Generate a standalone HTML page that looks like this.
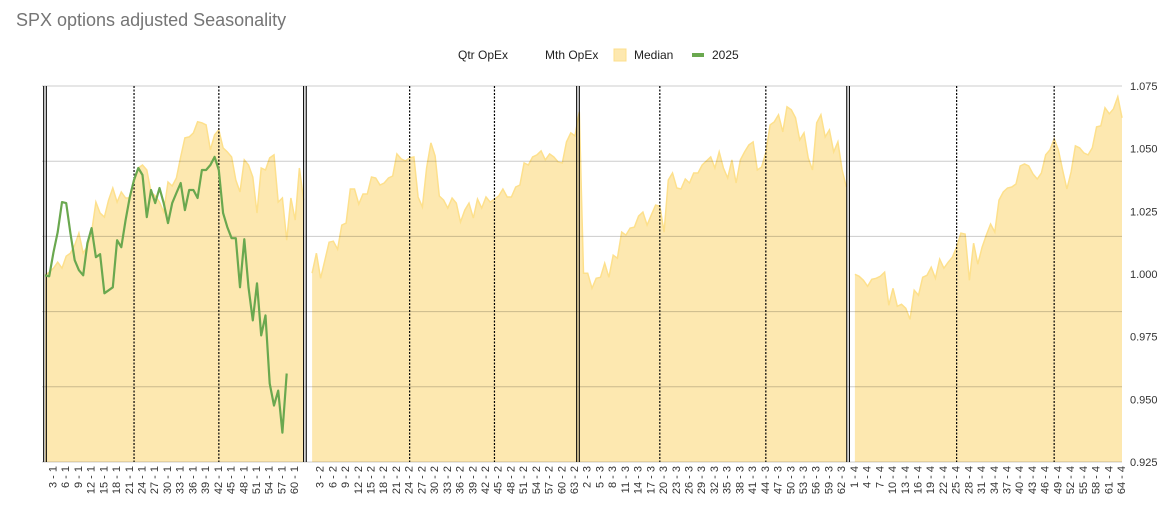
<!DOCTYPE html>
<html><head><meta charset="utf-8"><style>
body{margin:0;background:#fff;}
svg{display:block;font-family:"Liberation Sans",Arial,sans-serif;}
</style></head><body>
<svg id="chart" width="1170" height="512" viewBox="0 0 1170 512">
<text x="16" y="26" font-size="18" fill="#757575">SPX options adjusted Seasonality</text>
<g font-size="12" fill="#222">
<g><text x="458" y="59">Qtr OpEx</text></g>
<g><text x="545" y="59">Mth OpEx</text></g>
<g><rect x="614" y="49" width="12" height="12" fill="#fde8b0" stroke="#fddf8c"/><text x="634" y="59">Median</text></g>
<g><rect x="692" y="53" width="12" height="4" fill="#6aa84f"/><text x="712" y="59">2025</text></g>
</g>
<g id="area"></g>
<g id="grid"></g>
<g id="opex"></g>
<g id="line"></g>
<g id="yaxis"></g>
<g id="xaxis"></g>
</svg>
<script>
const qDays = [62, 64, 63, 64];
const q1Median = [0.9995,1.0007,1.0023,1.0047,1.0023,1.0071,1.0083,1.0115,1.0163,1.0083,1.0111,1.0167,1.0287,1.0243,1.0227,1.0295,1.0343,1.0287,1.0327,1.0303,1.0303,1.0367,1.0423,1.0435,1.0415,1.0327,1.0311,1.0287,1.0247,1.0367,1.0351,1.0383,1.0467,1.0543,1.0547,1.0563,1.0607,1.0603,1.0595,1.0495,1.0555,1.0575,1.0503,1.0487,1.0467,1.0375,1.0327,1.0455,1.0435,1.0387,1.0243,1.0423,1.0415,1.0463,1.0475,1.0287,1.0303,1.0135,1.0303,1.0215,1.0423,1.0295];
const q2Median = [1.0003,1.0083,0.9983,1.0055,1.0127,1.0131,1.0099,1.0195,1.0203,1.0339,1.0339,1.0279,1.0319,1.0319,1.0387,1.0383,1.0355,1.0363,1.0383,1.0391,1.0479,1.0459,1.0451,1.0463,1.0467,1.0307,1.0267,1.0423,1.0523,1.0471,1.0311,1.0295,1.0263,1.0303,1.0283,1.0207,1.0255,1.0283,1.0223,1.0299,1.0263,1.0307,1.0287,1.0299,1.0311,1.0339,1.0307,1.0307,1.0347,1.0355,1.0443,1.0435,1.0467,1.0475,1.0491,1.0455,1.0479,1.0467,1.0447,1.0443,1.0527,1.0563,1.0551,1.0647];
const q3Median = [1.0003,1.0003,0.9943,0.9983,0.9987,1.0043,0.9987,1.0075,1.0063,1.0167,1.0155,1.0183,1.0187,1.0231,1.0247,1.0195,1.0235,1.0275,1.0271,1.0167,1.0375,1.0403,1.0343,1.0339,1.0379,1.0363,1.0403,1.0403,1.0435,1.0451,1.0467,1.0423,1.0487,1.0423,1.0383,1.0455,1.0363,1.0455,1.0487,1.0515,1.0527,1.0415,1.0427,1.0483,1.0595,1.0607,1.0635,1.0567,1.0667,1.0655,1.0623,1.0535,1.0563,1.0463,1.0415,1.0603,1.0635,1.0547,1.0575,1.0487,1.0527,1.0415,1.0347];
const q4Median = [0.9999,0.9991,0.9975,0.9951,0.9979,0.9983,0.9991,1.0007,0.9875,0.9943,0.9871,0.9879,0.9863,0.9819,0.9935,0.9915,0.9987,0.9995,1.0027,0.9983,1.0059,1.0023,1.0047,1.0067,1.0107,1.0163,1.0159,0.9975,1.0123,1.0039,1.0107,1.0155,1.0199,1.0167,1.0295,1.0327,1.0343,1.0347,1.0359,1.0431,1.0439,1.0431,1.0399,1.0379,1.0403,1.0475,1.0495,1.0539,1.0495,1.0415,1.0339,1.0407,1.0511,1.0503,1.0483,1.0475,1.0503,1.0587,1.0591,1.0663,1.0639,1.0659,1.0707,1.0623];
const q1Actual2025 = [0.9995,0.9991,1.0087,1.0167,1.0287,1.0283,1.0163,1.0055,1.0015,0.9995,1.0123,1.0183,1.0067,1.0079,0.9923,0.9935,0.9947,1.0135,1.0107,1.0215,1.0307,1.0375,1.0423,1.0395,1.0227,1.0335,1.0283,1.0343,1.0283,1.0203,1.0283,1.0323,1.0363,1.0255,1.0335,1.0335,1.0303,1.0415,1.0415,1.0435,1.0467,1.0415,1.0243,1.0187,1.0143,1.0143,0.9947,1.0139,0.9947,0.9815,0.9963,0.9755,0.9835,0.9563,0.9475,0.9535,0.9367,0.9603];
const yTicks = [1.075,1.050,1.025,1.000,0.975,0.950,0.925];
const qtrOpExIdx = [0, 61.3, 125.7, 189.4];
const mthOpExIdx = [21, 41, 86, 106, 145, 170, 215, 238];

const NS = 'http://www.w3.org/2000/svg';
const L = 45, R = 1122, T = 86, B = 462, YMAX = 1.075, YMIN = 0.925;
const cats = [], median = [], actual = [];
const medians = [q1Median, q2Median, q3Median, q4Median];
for (let q = 0; q < 4; q++) {
  for (let d = 1; d <= qDays[q]; d++) {
    cats.push(d + ' - ' + (q + 1));
    median.push(medians[q][d - 1] !== undefined ? medians[q][d - 1] : null);
    actual.push(q === 0 && q1Actual2025[d - 1] !== undefined ? q1Actual2025[d - 1] : null);
  }
  if (q === 0 || q === 2) { cats.push(''); median.push(null); actual.push(null); }
}
const N = cats.length;
const xS = i => L + i * (R - L) / (N - 1);
const yS = v => T + (YMAX - v) / (YMAX - YMIN) * (B - T);
function mk(tag, attrs, parent) { const e = document.createElementNS(NS, tag); for (const k in attrs) e.setAttribute(k, attrs[k]); parent.appendChild(e); return e; }

const grid = document.getElementById('grid');
for (let k = 0; k <= 5; k++) {
  const y = T + k * (B - T) / 5;
  const g = mk('line', {x1: 42, x2: R, y1: y, y2: y, stroke: 'rgba(0,0,0,0.2)', 'stroke-width': 1}, grid);
  
  
}
const area = document.getElementById('area');
let seg = [];
function flush() {
  if (seg.length) {
    let d = 'M' + xS(seg[0]) + ',' + B;
    seg.forEach(i => d += ' L' + xS(i).toFixed(1) + ',' + yS(median[i]).toFixed(1));
    d += ' L' + xS(seg[seg.length - 1]) + ',' + B + ' Z';
    const a = mk('path', {d: d, fill: '#fde8b0', stroke: 'none'}, area);
    
    
    let dl = '';
    seg.forEach((i, k) => dl += (k ? ' L' : 'M') + xS(i).toFixed(1) + ',' + yS(median[i]).toFixed(1));
    const ln = mk('path', {d: dl, fill: 'none', stroke: '#fde08c', 'stroke-width': 1.5}, area);
    
    
  }
  seg = [];
}
for (let i = 0; i < N; i++) { if (median[i] === null) flush(); else seg.push(i); }
flush();
const opex = document.getElementById('opex');
qtrOpExIdx.forEach(i => {
  const x = Math.max(44, xS(i));
  [-1.3, 1.3].forEach(o => {
    const q = mk('line', {x1: x + o, x2: x + o, y1: T, y2: B, stroke: '#000', 'stroke-width': 1.1}, opex);
    
    
  });
});
mthOpExIdx.forEach(i => {
  const m = mk('line', {x1: xS(i), x2: xS(i), y1: T, y2: B, stroke: '#000', 'stroke-width': 1.2, 'stroke-dasharray': '2,1.5'}, opex);
  
  
});
const lineG = document.getElementById('line');
let dd = '', started = false;
for (let i = 0; i < N; i++) {
  if (actual[i] === null) { started = false; continue; }
  dd += (started ? ' L' : ' M') + xS(i).toFixed(1) + ',' + yS(actual[i]).toFixed(1);
  started = true;
}
const p = mk('path', {d: dd, fill: 'none', stroke: '#6aa84f', 'stroke-width': 2.2, 'stroke-linejoin': 'round'}, lineG);


const ya = document.getElementById('yaxis');
yTicks.forEach(v => {
  const t = mk('text', {x: 1130, y: yS(v) + 4, 'font-size': 11, fill: '#333'}, ya);
  t.textContent = v.toFixed(3);
  
  
});
const xa = document.getElementById('xaxis');
for (let i = 2; i < N; i += 3) {
  if (!cats[i]) continue;
  const x = xS(i) - 1;
  const t = mk('text', {x: 0, y: 0, 'font-size': 11, fill: '#333', 'text-anchor': 'end', transform: 'translate(' + (x + 4) + ',466) rotate(-90)'}, xa);
  t.textContent = cats[i];
  
  
}
</script>
</body></html>
